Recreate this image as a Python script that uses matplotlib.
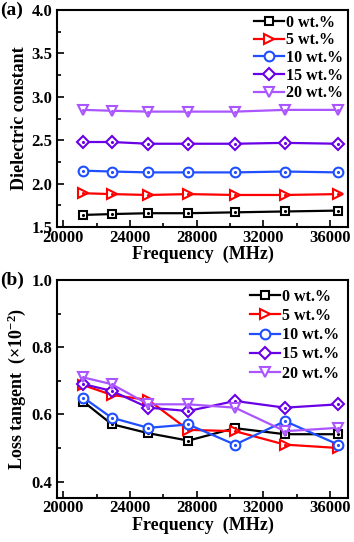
import matplotlib
matplotlib.use("Agg")
import matplotlib.pyplot as plt
from matplotlib.ticker import MultipleLocator

plt.rcParams['font.family'] = ['Liberation Serif', 'DejaVu Serif']
plt.rcParams['font.weight'] = 'bold'
plt.rcParams['mathtext.fontset'] = 'custom'
plt.rcParams['mathtext.rm'] = 'Liberation Serif:bold'
plt.rcParams['mathtext.default'] = 'rm'

freq = [21200, 22900, 25100, 27500, 30300, 33300, 36500]
labels = ['0 wt.%', '5 wt.%', '10 wt.%', '15 wt.%', '20 wt.%']

eps_0 = [1.64, 1.65, 1.66, 1.66, 1.67, 1.68, 1.69]
eps_5 = [1.89, 1.88, 1.87, 1.88, 1.87, 1.87, 1.88]
eps_10 = [2.15, 2.14, 2.13, 2.13, 2.13, 2.14, 2.13]
eps_15 = [2.48, 2.48, 2.46, 2.46, 2.46, 2.47, 2.46]
eps_20 = [2.85, 2.84, 2.83, 2.83, 2.83, 2.85, 2.85]

tan_0 = [0.638, 0.571, 0.544, 0.522, 0.559, 0.541, 0.541]
tan_5 = [0.687, 0.658, 0.643, 0.554, 0.550, 0.510, 0.500]
tan_10 = [0.650, 0.590, 0.560, 0.570, 0.510, 0.580, 0.510]
tan_15 = [0.690, 0.670, 0.620, 0.610, 0.640, 0.620, 0.630]
tan_20 = [0.710, 0.690, 0.630, 0.630, 0.620, 0.550, 0.560]

colors = ['#000000', '#FF0000', '#1F4FFF', '#6A00E6', '#AA55FF']
markers = ['s', '>', 'o', 'D', 'v']
msizes = [5.5, 7.5, 7, 6.5, 7.5]

fig = plt.figure(figsize=(3.54, 5.42), dpi=100)
ax1 = fig.add_axes([0.161, 0.581, 0.822, 0.4005])
ax2 = fig.add_axes([0.161, 0.0817, 0.822, 0.4017])

def draw(ax, series, lspace, bpad):
    for s, c, m, ms, lab in zip(series, colors, markers, msizes, labels):
        ax.plot(freq, s, color=c, lw=1.6, marker=m, ms=ms, mfc='white',
                mec=c, mew=1.5, label=lab)
        ax.plot(freq, s, ls='none', marker='.', ms=2.5, color=c)
    ax.set_xlim(19620, 37080)
    ax.xaxis.set_major_locator(MultipleLocator(4000))
    ax.xaxis.set_minor_locator(MultipleLocator(2000))
    ax.tick_params(which='both', direction='in', top=False, right=False,
                   labelsize=12, width=1.2)
    ax.tick_params(which='major', length=5)
    ax.tick_params(which='minor', length=3)
    ax.tick_params(axis='x', pad=2)
    for sp in ax.spines.values():
        sp.set_linewidth(1.5)
    ax.set_xlabel('Frequency  (MHz)', fontsize=13, fontweight='bold', labelpad=0)
    leg = ax.legend(loc='upper right', frameon=False, fontsize=11.5,
                    handlelength=1.9, handletextpad=0.1, labelspacing=lspace,
                    borderaxespad=0.1, borderpad=bpad)
    for t in leg.get_texts():
        t.set_fontweight('bold')

draw(ax1, [eps_0, eps_5, eps_10, eps_15, eps_20], 0.1, 0.2)
ax1.set_ylim(1.5, 4.0)
ax1.yaxis.set_major_locator(MultipleLocator(0.5))
ax1.yaxis.set_minor_locator(MultipleLocator(0.25))
ax1.yaxis.set_major_formatter(matplotlib.ticker.FormatStrFormatter('%.1f'))
ax1.set_ylabel('Dielectric constant', fontsize=13, fontweight='bold', labelpad=2)

draw(ax2, [tan_0, tan_5, tan_10, tan_15, tan_20], 0.2, 0.45)
ax2.set_ylim(0.352, 1.0)
ax2.yaxis.set_major_locator(MultipleLocator(0.2))
ax2.yaxis.set_minor_locator(MultipleLocator(0.1))
ax2.yaxis.set_major_formatter(matplotlib.ticker.FormatStrFormatter('%.1f'))
ax2.set_ylabel('Loss tangent  (×10$^{-2}$)', fontsize=13, fontweight='bold', labelpad=2)

fig.text(0.0, 0.981, '(a)', fontsize=14, fontweight='bold', va='center', ha='left')
fig.text(0.0, 0.483, '(b)', fontsize=14, fontweight='bold', va='center', ha='left')

fig.savefig('out.png', dpi=100)
